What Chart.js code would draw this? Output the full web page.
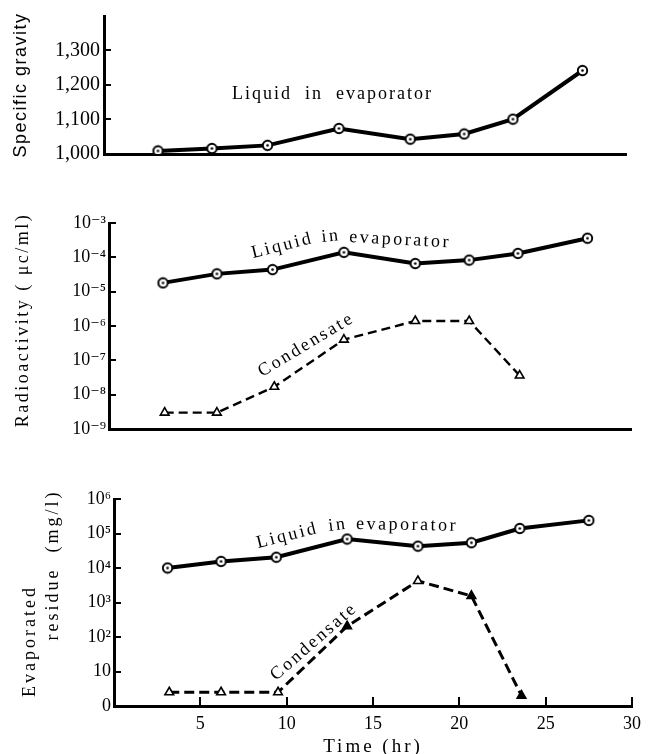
<!DOCTYPE html>
<html>
<head>
<meta charset="utf-8">
<script src="https://cdn.jsdelivr.net/npm/chart.js@4.4.0/dist/chart.umd.min.js"></script>
<style>
  html, body { margin: 0; padding: 0; background: #fff; }
  #wrap { position: relative; width: 648px; height: 754px; }
  canvas { position: absolute; left: 0; }
</style>
</head>
<body>
<div id="wrap">
  <canvas id="c1" width="648" height="180" style="top:0px"></canvas>
  <canvas id="c2" width="648" height="270" style="top:180px"></canvas>
  <canvas id="c3" width="648" height="304" style="top:450px"></canvas>
</div>
<script>
// sampling times (hr)
const times = [3.1, 6.2, 9.4, 13.5, 17.6, 20.7, 23.5, 27.5];
const condTimes = [3.2, 6.2, 9.5, 13.5, 17.6, 20.7, 23.6];
const timeTicks = [5, 10, 15, 20, 25, 30];

// specific gravity of the liquid in the evaporator
const gravityLiquid = [1.009, 1.016, 1.025, 1.074, 1.043, 1.058, 1.101, 1.242];
const gravityTicks = [1.0, 1.1, 1.2, 1.3];

// radioactivity (uc/ml)
const radioLiquid = [1.8e-5, 3.3e-5, 4.4e-5, 1.4e-4, 6.6e-5, 8.3e-5, 1.3e-4, 3.6e-4];
const radioCondensate = [3e-9, 3e-9, 1.7e-8, 4e-7, 1.4e-6, 1.4e-6, 3.6e-8];
const radioTicks = [1e-9, 1e-8, 1e-7, 1e-6, 1e-5, 1e-4, 1e-3];

// evaporated residue (mg/l)
const residueLiquid = [1e4, 1.55e4, 2.05e4, 6.9e4, 4.3e4, 5.4e4, 1.4e5, 2.4e5];
const residueCondensate = [2.5, 2.5, 2.5, 205, 4200, 1550, 2];
const residueTicks = [1, 10, 100, 1e3, 1e4, 1e5, 1e6];

const W = 648;
const SERIF = '"Liberation Serif", "DejaVu Serif", serif';
const SUP = { '-': '\u207B', '0': '\u2070', '1': '\u00B9', '2': '\u00B2', '3': '\u00B3',
  '4': '\u2074', '5': '\u2075', '6': '\u2076', '7': '\u2077', '8': '\u2078', '9': '\u2079' };
const pow10 = v => '10' + String(Math.round(Math.log10(v))).split('').map(c => SUP[c]).join('');

const pts = (xs, ys) => ys.map((y, i) => ({ x: xs[i], y: y }));

// circle with a dot in the middle
function dotCircle() {
  const c = document.createElement('canvas');
  c.width = c.height = 13;
  const g = c.getContext('2d');
  g.beginPath(); g.arc(6.5, 6.5, 4.7, 0, Math.PI * 2);
  g.fillStyle = '#fff'; g.fill();
  g.lineWidth = 1.9; g.strokeStyle = '#000'; g.stroke();
  g.beginPath(); g.arc(6.5, 6.5, 1.3, 0, Math.PI * 2);
  g.fillStyle = '#000'; g.fill();
  return c;
}
const circleImg = dotCircle();

function liquidSet(data) {
  return {
    data: data, borderColor: '#000', borderWidth: 4, tension: 0,
    pointStyle: circleImg, pointRadius: 6
  };
}
function condensateSet(data, fills, width, dash) {
  return {
    data: data, borderColor: '#000', borderWidth: width, borderDash: dash, tension: 0,
    pointStyle: 'triangle', pointRadius: 5, pointBorderWidth: 1.6,
    pointBorderColor: '#000', pointBackgroundColor: fills
  };
}

// tick marks drawn on the inside of the axes
const inwardTicks = {
  id: 'inwardTicks',
  afterDraw(chart, args, opts) {
    const { ctx, chartArea, scales } = chart;
    ctx.save();
    ctx.strokeStyle = '#000';
    ctx.lineWidth = 2;
    scales.y.ticks.forEach(t => {
      const y = Math.round(scales.y.getPixelForValue(t.value));
      ctx.beginPath(); ctx.moveTo(chartArea.left, y); ctx.lineTo(chartArea.left + 7, y); ctx.stroke();
    });
    if (opts.x) {
      scales.x.ticks.forEach(t => {
        const x = Math.round(scales.x.getPixelForValue(t.value));
        ctx.beginPath(); ctx.moveTo(x, chartArea.bottom); ctx.lineTo(x, chartArea.bottom - 9); ctx.stroke();
      });
    }
    ctx.restore();
  }
};

// free text: axis titles and curve names
const notes = {
  id: 'notes',
  afterDraw(chart, args, opts) {
    const ctx = chart.ctx;
    (opts.items || []).forEach(n => {
      ctx.save();
      ctx.translate(n.x, n.y);
      ctx.rotate((n.angle || 0) * Math.PI / 180);
      ctx.font = n.font || ('18px ' + SERIF);
      ctx.letterSpacing = (n.ls || 0) + 'px';
      ctx.fillStyle = '#000';
      ctx.textAlign = n.align || 'left';
      ctx.textBaseline = n.baseline || 'alphabetic';
      ctx.fillText(n.text, 0, 0);
      ctx.restore();
    });
  }
};

function panel(id, box, yOpts, datasets, showX, items) {
  const cv = document.getElementById(id);
  const H = cv.height;
  return new Chart(cv, {
    type: 'line',
    data: { datasets: datasets },
    plugins: [inwardTicks, notes],
    options: {
      responsive: false, animation: false, devicePixelRatio: 1,
      layout: { padding: { left: 0, top: box.top, right: W - box.right, bottom: 0 } },
      elements: { line: { clip: false } },
      plugins: {
        legend: { display: false }, tooltip: { enabled: false },
        inwardTicks: { x: showX },
        notes: { items: items }
      },
      scales: {
        x: {
          type: 'linear', min: 0, max: 30,
          grid: { display: false, drawTicks: false },
          border: { display: true, width: 3, color: '#000' },
          ticks: { display: showX, color: '#000', padding: 7, maxRotation: 0, autoSkip: false,
                   font: { family: SERIF, size: 18 } },
          afterBuildTicks: s => { s.ticks = timeTicks.map(v => ({ value: v })); },
          afterFit: s => { s.height = H - box.bottom; }
        },
        y: Object.assign({
          grid: { display: false, drawTicks: false },
          border: { display: true, width: 3, color: '#000' },
          afterFit: s => { s.width = box.left; }
        }, yOpts)
      }
    }
  });
}

// specific gravity
panel('c1', { left: 104, right: 626, top: 15, bottom: 154 }, {
  type: 'linear', min: 1.0, max: 1.4,
  ticks: { color: '#000', padding: 4, font: { family: SERIF, size: 20 },
           callback: v => v.toFixed(3).replace('.', ',') },
  afterBuildTicks: s => { s.ticks = gravityTicks.map(v => ({ value: v })); }
}, [liquidSet(pts(times, gravityLiquid))], false, [
  { text: 'Specific gravity', x: 21, y: 85, angle: -90, align: 'center', baseline: 'middle',
    font: '18px "Liberation Sans", Arial, sans-serif', ls: 1.5 },
  { text: 'Liquid  in  evaporator', x: 232, y: 99, ls: 2 }
]);

// radioactivity
panel('c2', { left: 109, right: 631, top: 43, bottom: 249 }, {
  type: 'logarithmic', min: 1e-9, max: 1e-3,
  ticks: { color: '#000', padding: 3, font: { family: SERIF, size: 18 }, callback: v => pow10(v) },
  afterBuildTicks: s => { s.ticks = radioTicks.map(v => ({ value: v })); }
}, [
  liquidSet(pts(times, radioLiquid)),
  condensateSet(pts(condTimes, radioCondensate), '#fff', 2.4, [9, 5])
], false, [
  { text: 'Radioactivity ( \u03BCc/ml)', x: 23, y: 140, angle: -90, align: 'center', baseline: 'middle', ls: 2.5 },
  { text: 'Liquid', x: 253, y: 78, angle: -14, ls: 2.5 },
  { text: 'in', x: 322, y: 62, angle: -6, ls: 2.5 },
  { text: 'evaporator', x: 349, y: 62, angle: 3, ls: 2.5 },
  { text: 'Condensate', x: 262, y: 197, angle: -31, ls: 2.5 }
]);

// evaporated residue
panel('c3', { left: 114, right: 636, top: 49, bottom: 256 }, {
  type: 'logarithmic', min: 1, max: 1e6,
  ticks: { color: '#000', padding: 3, font: { family: SERIF, size: 18 },
           callback: v => v === 1 ? '0' : (v === 10 ? '10' : pow10(v)) },
  afterBuildTicks: s => { s.ticks = residueTicks.map(v => ({ value: v })); }
}, [
  liquidSet(pts(times, residueLiquid)),
  condensateSet(pts(condTimes, residueCondensate),
    ['#fff', '#fff', '#fff', '#000', '#fff', '#000', '#000'], 3, [10, 5])
], true, [
  { text: 'Evaporated', x: 30, y: 191, angle: -90, align: 'center', baseline: 'middle', ls: 3 },
  { text: 'residue  (mg/l)', x: 53, y: 115, angle: -90, align: 'center', baseline: 'middle', ls: 3 },
  { text: 'Liquid', x: 258, y: 98, angle: -14, ls: 2.5 },
  { text: 'in', x: 329, y: 81, angle: -7, ls: 2.5 },
  { text: 'evaporator', x: 356, y: 79, angle: 1, ls: 2.5 },
  { text: 'Condensate', x: 276, y: 231, angle: -41, ls: 2.5 },
  { text: 'Time (hr)', x: 373, y: 297, align: 'center', baseline: 'middle', font: '19px ' + SERIF, ls: 3 }
]);
</script>
</body>
</html>
